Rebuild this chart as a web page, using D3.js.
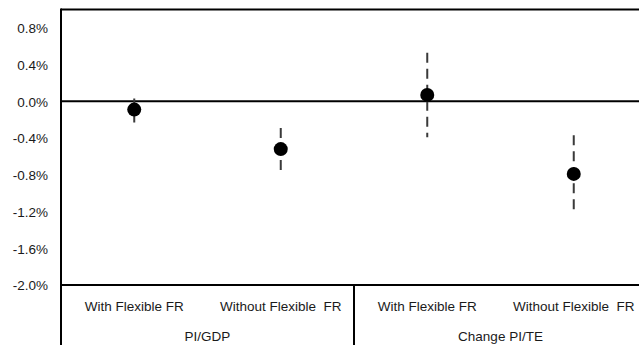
<!DOCTYPE html>
<html>
<head>
<meta charset="utf-8">
<script src="https://cdn.jsdelivr.net/npm/d3@7"></script>
<style>
  html, body { margin: 0; padding: 0; background: #fff; }
  svg { display: block; }
  text { font-family: "Liberation Sans", Arial, sans-serif; fill: #1a1a1a; white-space: pre; }
</style>
</head>
<body>
<svg id="chart" width="639" height="348"></svg>
<script>
// Point estimates (%) with their confidence bounds, grouped by measure
const groups = ["PI/GDP", "Change PI/TE"];
const categories = ["With Flexible FR", "Without Flexible  FR", "With Flexible FR", "Without Flexible  FR"];
const categoryGroup = [0, 0, 1, 1];
const estimates = [-0.09, -0.52, 0.07, -0.79];
const upperBounds = [0.03, -0.29, 0.53, -0.37];
const lowerBounds = [-0.23, -0.75, -0.39, -1.23];
const yTicks = [0.8, 0.4, 0.0, -0.4, -0.8, -1.2, -1.6, -2.0];

const svg = d3.select("#chart");
const plotLeft = 61, plotRight = 647, plotTop = 9.5, plotBottom = 285;

const x = d3.scaleBand()
  .domain(d3.range(categories.length))
  .range([plotLeft, plotRight])
  .padding(0);

const y = d3.scaleLinear()
  .domain([-2.0, 1.0])
  .range([plotBottom, plotTop]);

// Plain hyphen-minus for negative percentages
const locale = d3.formatLocale({ decimal: ".", thousands: ",", grouping: [3], currency: ["", ""], minus: "-" });
const fmt = d => locale.format(".1f")(d) + "%";

// Y axis tick labels (no tick marks)
const yAxis = d3.axisLeft(y).tickValues(yTicks).tickFormat(fmt).tickSize(0).tickPadding(13);
const gy = svg.append("g").attr("transform", `translate(${plotLeft},0)`).call(yAxis);
gy.select(".domain").remove();
gy.selectAll("text").style("font-size", "13.5px").attr("dy", "0.35em");

// Frame: top edge, left edge (extended down through the label area), bottom axis
svg.append("line").attr("x1", plotLeft).attr("x2", plotRight).attr("y1", plotTop).attr("y2", plotTop)
  .attr("stroke", "#000").attr("stroke-width", 2);
svg.append("line").attr("x1", plotLeft).attr("x2", plotLeft).attr("y1", plotTop - 1).attr("y2", 345)
  .attr("stroke", "#000").attr("stroke-width", 2);
svg.append("line").attr("x1", plotLeft).attr("x2", plotRight).attr("y1", plotBottom).attr("y2", plotBottom)
  .attr("stroke", "#000").attr("stroke-width", 2);

// Zero reference line
svg.append("line").attr("x1", plotLeft).attr("x2", plotRight).attr("y1", y(0)).attr("y2", y(0))
  .attr("stroke", "#000").attr("stroke-width", 2);

// Divider between the two groups
const groupEdge = x(2);
svg.append("line").attr("x1", groupEdge).attr("x2", groupEdge).attr("y1", plotBottom).attr("y2", 345)
  .attr("stroke", "#000").attr("stroke-width", 2);

// Category labels
const xAxis = d3.axisBottom(x).tickFormat(i => categories[i]).tickSize(0).tickPadding(0);
const gx = svg.append("g").attr("transform", `translate(0,${plotBottom})`).call(xAxis);
gx.select(".domain").remove();
gx.selectAll("text").style("font-size", "13.5px").attr("y", 26).attr("dy", 0);

// Group labels
groups.forEach((g, gi) => {
  const idx = d3.range(categories.length).filter(i => categoryGroup[i] === gi);
  const x0 = x(idx[0]), x1 = x(idx[idx.length - 1]) + x.bandwidth();
  svg.append("text")
    .attr("x", (x0 + x1) / 2)
    .attr("y", 341)
    .attr("text-anchor", "middle")
    .style("font-size", "13.5px")
    .text(g);
});

const cx = i => x(i) + x.bandwidth() / 2;

// Dashed confidence intervals
svg.append("g").selectAll("line")
  .data(d3.range(categories.length))
  .join("line")
  .attr("x1", cx).attr("x2", cx)
  .attr("y1", i => y(upperBounds[i]))
  .attr("y2", i => y(lowerBounds[i]))
  .attr("stroke", "#3a3a3a")
  .attr("stroke-width", 2)
  .attr("stroke-dasharray", "10,6");

// Point estimates
svg.append("g").selectAll("circle")
  .data(d3.range(categories.length))
  .join("circle")
  .attr("cx", cx)
  .attr("cy", i => y(estimates[i]))
  .attr("r", 7)
  .attr("fill", "#000");
</script>
</body>
</html>
